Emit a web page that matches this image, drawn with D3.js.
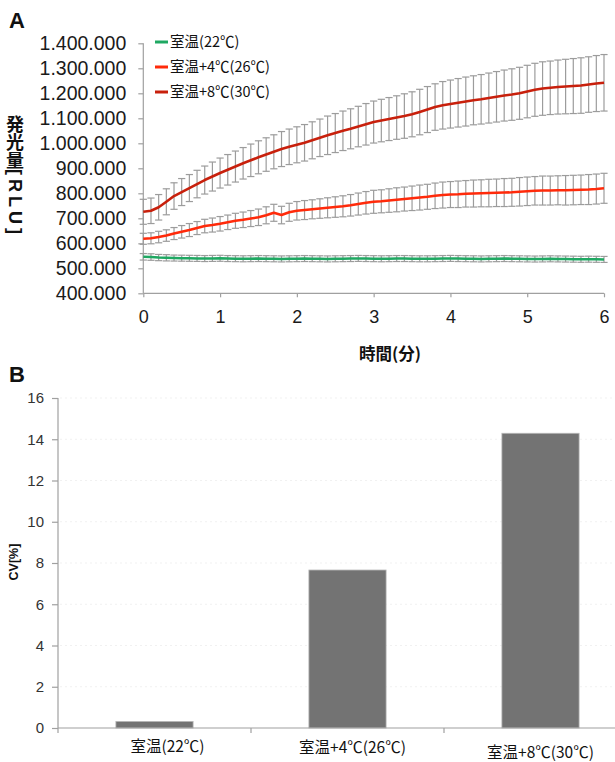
<!DOCTYPE html>
<html><head><meta charset="utf-8">
<script src="https://cdn.jsdelivr.net/npm/d3@7"></script>
<style>
html,body{margin:0;padding:0;background:#fff;}
svg{display:block;}
</style></head>
<body>
<svg id="c" width="615" height="762"></svg>
<script>
// ---------- DATA ----------
const times = [0,0.1,0.2,0.3,0.4,0.5,0.6,0.7,0.8,0.9,1,1.1,1.2,1.3,1.4,1.5,1.6,1.7,1.8,1.9,2,2.1,2.2,2.3,2.4,2.5,2.6,2.7,2.8,2.9,3,3.1,3.2,3.3,3.4,3.5,3.6,3.7,3.8,3.9,4,4.1,4.2,4.3,4.4,4.5,4.6,4.7,4.8,4.9,5,5.1,5.2,5.3,5.4,5.5,5.6,5.7,5.8,5.9,6];
const seriesNames = ["室温(22℃)","室温+4℃(26℃)","室温+8℃(30℃)"];
// values in RLU
const rlu22 = [546000,545000,543000,542000,541000,540500,540000,539500,539000,539500,540000,539000,538500,538000,538500,539000,538500,538000,537500,538000,538500,539000,538500,538000,537500,538000,538500,539000,539500,539000,538500,538000,538500,539000,539000,538500,538000,538000,538500,539000,539500,539000,538500,538000,537500,538000,538500,539000,538500,538000,537500,537000,537500,538000,537500,537000,536500,536000,536500,536000,535500];
const err22 = [13000,13000,12500,12500,12000,12000,12000,12000,12000,12000,12000,12000,12000,12000,12000,12000,12000,12000,12000,12000,12000,12000,12000,12000,12000,12000,12000,12000,12000,12000,12000,12000,12000,12000,12000,12000,12000,12000,12000,12000,12000,12000,12000,12000,12000,12000,12000,12000,12000,12000,12000,12000,12000,12000,12000,12000,12000,12000,12000,12000,12000];
const rlu26 = [618000,620000,625000,631000,639000,646000,653000,661000,669000,673000,678000,684000,690000,694000,699000,704000,712000,722000,713000,724000,730000,733000,736000,739000,742000,745000,748000,752000,757000,762000,766000,768000,771000,774000,777000,780000,783000,786000,790000,793000,795000,796000,798000,799000,800000,801000,802000,803000,804000,806000,808000,810000,811000,811000,812000,812000,813000,814000,815000,817000,820000];
const err26 = [22000,22000,23000,23000,24000,25000,26000,26000,27000,28000,29000,29000,30000,31000,32000,33000,34000,34000,35000,36000,37000,38000,38000,39000,40000,41000,42000,43000,44000,45000,46000,46000,47000,48000,48000,49000,50000,50000,51000,52000,52000,53000,53000,54000,54000,55000,55000,56000,56000,57000,57000,57000,58000,58000,58000,59000,59000,59000,60000,60000,60000];
const rlu30 = [726000,730000,744000,766000,789000,805000,821000,837000,853000,867000,881000,894000,907000,920000,932000,944000,955000,966000,977000,986000,994000,1002000,1012000,1022000,1032000,1041000,1050000,1058000,1067000,1076000,1085000,1091000,1097000,1103000,1109000,1116000,1125000,1135000,1145000,1152000,1157000,1162000,1167000,1172000,1176000,1181000,1186000,1191000,1195000,1200000,1207000,1214000,1219000,1222000,1225000,1227000,1229000,1231000,1235000,1239000,1242000];
const err30 = [50000,51000,51000,52000,53000,54000,54000,55000,56000,58000,60000,61000,62000,63000,65000,66000,67000,68000,70000,71000,72000,73000,74000,75000,77000,78000,79000,80000,81000,83000,84000,85000,86000,87000,89000,90000,91000,92000,93000,95000,96000,97000,98000,98000,99000,100000,101000,102000,103000,104000,105000,106000,107000,107000,108000,109000,110000,111000,111000,112000,113000];
const yTicksA = [400000,500000,600000,700000,800000,900000,1000000,1100000,1200000,1300000,1400000];
const xTicksA = [0,1,2,3,4,5,6];

const cvCategories = ["室温(22℃)","室温+4℃(26℃)","室温+8℃(30℃)"];
const cvValues = [0.32, 7.66, 14.29];
const yTicksB = [0,2,4,6,8,10,12,14,16];

// ---------- CHART ----------
const svg = d3.select("#c");
const AX = "#a0a0a0";
const latin = "'Liberation Sans', Arial, sans-serif";
const cjk = "'Noto Sans CJK JP', 'Liberation Sans', sans-serif";
const colors = ["#1fa862","#ff2a0a","#c8200c"];
const series = [
  {name: seriesNames[0], v: rlu22, e: err22, c: colors[0]},
  {name: seriesNames[1], v: rlu26, e: err26, c: colors[1]},
  {name: seriesNames[2], v: rlu30, e: err30, c: colors[2]}
];

// Panel A
const x = d3.scaleLinear().domain([0,6]).range([143.3,604]);
const y = d3.scaleLinear().domain([400000,1400000]).range([293.3,43.3]);
const loc = d3.formatLocale({decimal:",", thousands:".", grouping:[3], currency:["",""]});
const fmt = loc.format(",d");

svg.append("text").attr("x",9).attr("y",28).text("A")
  .attr("font-family",latin).attr("font-weight","bold").attr("font-size",22).attr("fill","#111");

const gy = svg.append("g").attr("transform","translate(143.3,0)")
  .call(d3.axisLeft(y).tickValues(yTicksA).tickFormat(fmt).tickSize(5).tickPadding(12));
gy.selectAll("path,line").attr("stroke",AX).attr("stroke-width",1.2);
gy.selectAll("text").attr("font-family",latin).attr("font-size",19.5).attr("fill","#1a1a1a");
gy.select(".domain").attr("d","M0,43.3V293.3");

const gx = svg.append("g").attr("transform","translate(0,293.3)")
  .call(d3.axisBottom(x).tickValues(xTicksA).tickFormat(d3.format("d")).tickSize(4).tickPadding(13));
gx.selectAll("path,line").attr("stroke",AX).attr("stroke-width",1.2);
gx.selectAll("text").attr("font-family",latin).attr("font-size",18).attr("fill","#1a1a1a");
gx.select(".domain").attr("d","M143.3,0H604");

// error bars
series.forEach(s => {
  const g = svg.append("g");
  times.forEach((t,i) => {
    const cx = x(t), y1 = y(s.v[i]+s.e[i]), y2 = y(s.v[i]-s.e[i]);
    g.append("line").attr("x1",cx).attr("x2",cx).attr("y1",y1).attr("y2",y2);
    g.append("line").attr("x1",cx-3.6).attr("x2",cx+3.6).attr("y1",y1).attr("y2",y1);
    g.append("line").attr("x1",cx-3.6).attr("x2",cx+3.6).attr("y1",y2).attr("y2",y2);
  });
  g.selectAll("line").attr("stroke","#9c9c9c").attr("stroke-width",1.2);
});
// lines
const line = d3.line().x((d,i)=>x(times[i])).y(d=>y(d)).curve(d3.curveLinear);
series.forEach(s => {
  svg.append("path").attr("d",line(s.v)).attr("fill","none")
    .attr("stroke",s.c).attr("stroke-width",2.6).attr("stroke-linejoin","round");
});

// legend
const legY = [42,67,92];
series.forEach((s,i) => {
  svg.append("line").attr("x1",155).attr("x2",168).attr("y1",legY[i]).attr("y2",legY[i])
    .attr("stroke",s.c).attr("stroke-width",3);
  svg.append("text").attr("x",170).attr("y",legY[i]).attr("dy","0.35em").text(s.name)
    .attr("font-family",cjk).attr("font-size",14.5).attr("fill","#111");
});

// axis titles A
const yt = svg.append("text").attr("x",15).attr("y",115)
  .attr("font-family",cjk).attr("font-weight","bold").attr("font-size",18).attr("fill","#111")
  .style("writing-mode","vertical-rl");
yt.append("tspan").text("発光量");
yt.append("tspan").attr("font-family",latin).attr("letter-spacing",4).text("[RLU]");
svg.append("text").attr("x",390).attr("y",354).attr("dy","0.35em").attr("text-anchor","middle")
  .text("時間(分)").attr("font-family",cjk).attr("font-weight","bold").attr("font-size",16.5).attr("fill","#111");

// Panel B
svg.append("text").attr("x",9).attr("y",382).text("B")
  .attr("font-family",latin).attr("font-weight","bold").attr("font-size",22).attr("fill","#111");

const y2s = d3.scaleLinear().domain([0,16]).range([728,398]);
const x2s = d3.scaleBand().domain(cvCategories).range([58,637]).paddingInner(0.6).paddingOuter(0.3);

// faint grid
svg.append("g").selectAll("line").data(yTicksB.filter(d=>d>0)).join("line")
  .attr("x1",60).attr("x2",615).attr("y1",d=>y2s(d)).attr("y2",d=>y2s(d))
  .attr("stroke","#f1f1f1").attr("stroke-width",1).attr("stroke-dasharray","2,3");

svg.append("g").selectAll("rect").data(cvValues).join("rect")
  .attr("x",(d,i)=>x2s(cvCategories[i])).attr("width",x2s.bandwidth())
  .attr("y",d=>y2s(d)).attr("height",d=>y2s(0)-y2s(d))
  .attr("fill","#737373").attr("stroke","#b8b8b8").attr("stroke-width",0.8);

const gy2 = svg.append("g").attr("transform","translate(58,0)")
  .call(d3.axisLeft(y2s).tickValues(yTicksB).tickFormat(d3.format("d")).tickSize(6).tickPadding(8));
gy2.selectAll("path,line").attr("stroke",AX).attr("stroke-width",1.2);
gy2.selectAll("text").attr("font-family",latin).attr("font-size",15).attr("fill","#333");
gy2.select(".domain").attr("d","M0,398V728");

// x axis B
const step = x2s.step();
const gx2 = svg.append("g");
gx2.append("line").attr("x1",58).attr("x2",615).attr("y1",728).attr("y2",728).attr("stroke",AX).attr("stroke-width",1.2);
const bounds = [58].concat(cvCategories.slice(0,2).map(c => x2s(c)+x2s.bandwidth()+step*0.3));
gx2.selectAll("line.t").data(bounds).join("line").attr("class","t")
  .attr("x1",d=>d).attr("x2",d=>d).attr("y1",728).attr("y2",733).attr("stroke",AX).attr("stroke-width",1.2);
const labDx = [13,5,0], labY = [747,748,753];
gx2.selectAll("text").data(cvCategories).join("text")
  .attr("x",(d,i)=>x2s(d)+x2s.bandwidth()/2+labDx[i]).attr("y",(d,i)=>labY[i]).attr("dy","0.35em")
  .attr("text-anchor","middle").text(d=>d)
  .attr("font-family",cjk).attr("font-size",15.5).attr("fill","#111");

svg.append("text").attr("transform","translate(18,562) rotate(-90)").attr("text-anchor","middle")
  .text("CV[%]").attr("font-family",latin).attr("font-weight","bold").attr("font-size",12.5).attr("fill","#111");
</script>
</body></html>
